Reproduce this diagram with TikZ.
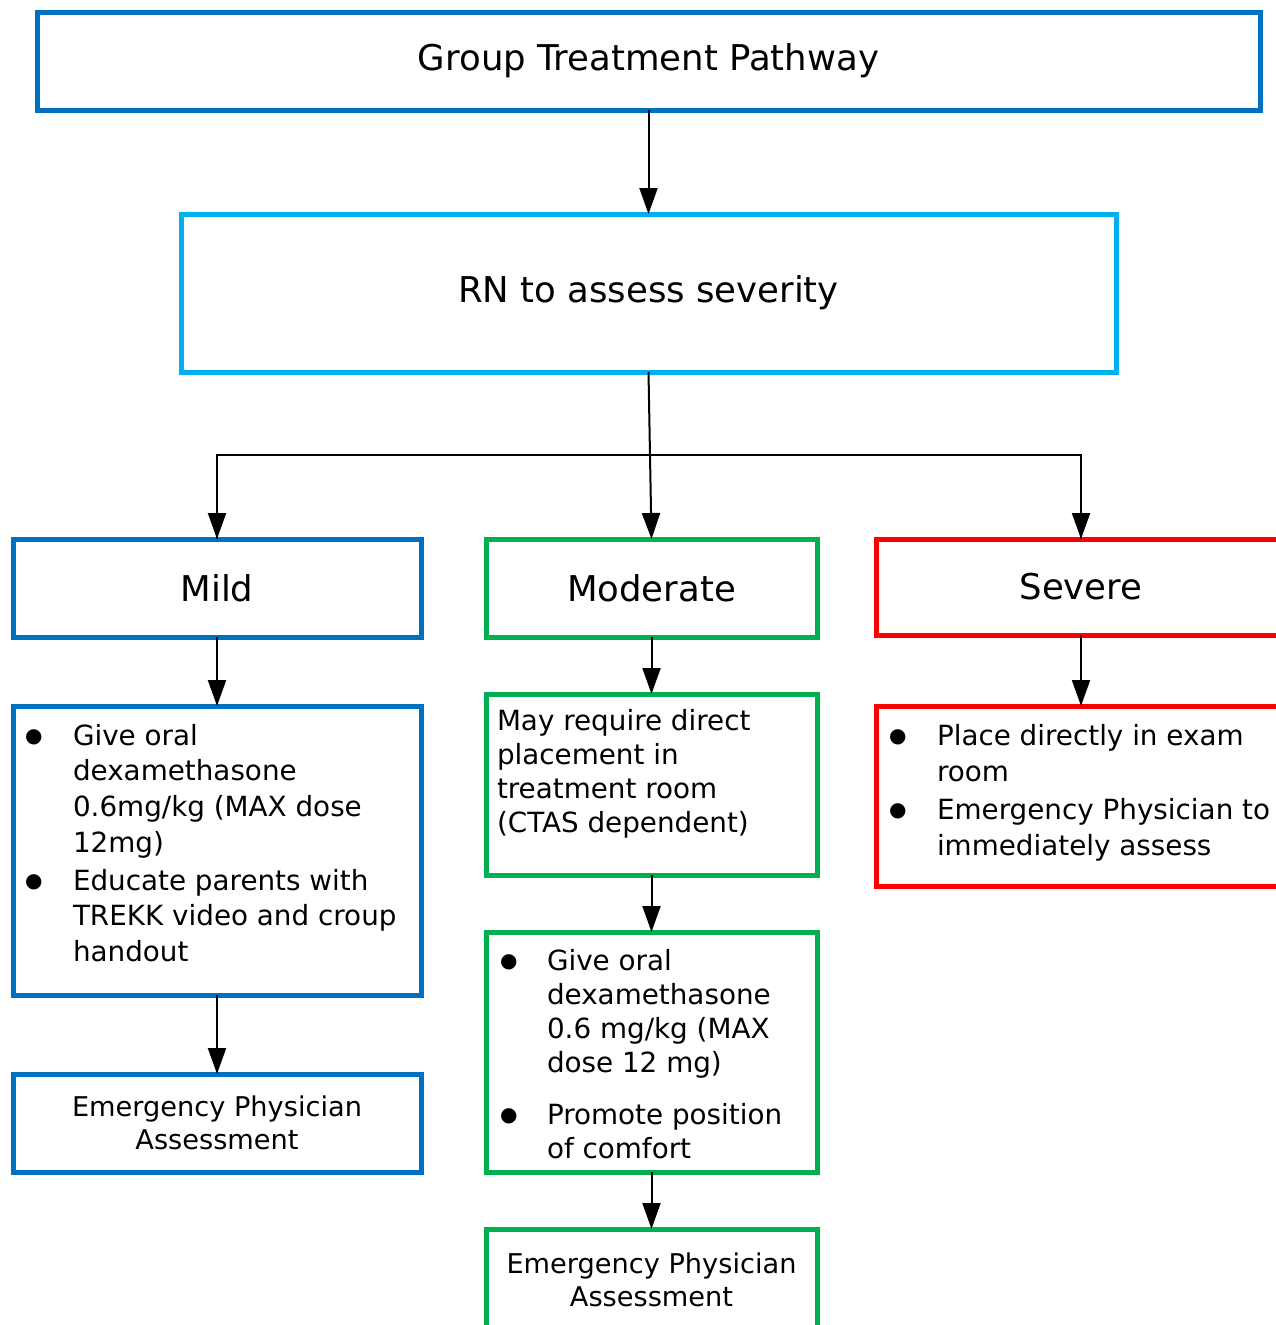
\documentclass[tikz,border=0pt]{standalone}
\usepackage{fontspec}
\setmainfont{DejaVu Sans}
\usetikzlibrary{arrows.meta}
\definecolor{cblue}{HTML}{0070C0}
\definecolor{ccyan}{HTML}{00B0F0}
\definecolor{cgreen}{HTML}{00B050}
\definecolor{cred}{HTML}{FF0000}
\newcommand\headfont{\fontsize{35.5}{42}\selectfont}
\newcommand\bodyfont{\fontsize{27.8}{35.7}\selectfont}
\newcommand\epfont{\fontsize{27.2}{33}\selectfont}
\newcommand\bigbul{\raisebox{2.5pt}{\fontsize{20}{20}\selectfont ●}}
\begin{document}
\begin{tikzpicture}[x=1pt,y=-1pt,
  box/.style={draw, line width=5pt, anchor=north west, inner sep=0pt, outer sep=0pt, align=center},
  conn/.style={line width=2pt, -{Triangle[length=26pt,width=18pt]}},
  plain/.style={line width=2pt},
  txt/.style={inner sep=0pt, outer sep=0pt, anchor=base west}]
\useasboundingbox[fill=white] (0,0) rectangle (1275,1325);

% boxes
\node[box, draw=cblue, minimum width=1223pt, minimum height=98pt, font=\headfont] (title) at (37,12) {Group Treatment Pathway};
\node[box, draw=ccyan, minimum width=935pt, minimum height=158pt, font=\headfont] (rn) at (181,214) {RN to assess severity};

\node[box, draw=cblue, minimum width=408pt, minimum height=98pt, font=\headfont] (mild) at (13,539) {Mild};
\node[box, draw=cgreen, minimum width=331pt, minimum height=98pt, font=\headfont] (mod) at (486,539) {Moderate};
\node[box, draw=cred, minimum width=410pt, minimum height=96pt, font=\headfont] (sev) at (876,539) {Severe};

\node[box, draw=cblue, minimum width=408pt, minimum height=289pt] (mildb) at (13,706) {};
\node[box, draw=cblue, minimum width=408pt, minimum height=98pt, font=\epfont] (mildep) at (13,1074) {Emergency Physician\\Assessment};

\node[box, draw=cgreen, minimum width=331pt, minimum height=181pt] (modm) at (486,694) {};
\node[box, draw=cgreen, minimum width=331pt, minimum height=240pt] (modb) at (486,932) {};
\node[box, draw=cgreen, minimum width=331pt, minimum height=101pt, font=\epfont] (modep) at (486,1229) {Emergency Physician\\Assessment};

\node[box, draw=cred, minimum width=410pt, minimum height=180pt] (sevb) at (876,706) {};

% texts
\node[txt] (mildt) at (25,745) {\bodyfont\begin{tabular}[t]{@{}p{48pt}@{}l@{}}
\bigbul & Give oral\\
 & dexamethasone\\
 & 0.6mg/kg (MAX dose\\
 & 12mg)\\[2.3pt]
\bigbul & Educate parents with\\
 & TREKK video and croup\\
 & handout
\end{tabular}};

\node[txt] (sevt) at (889,745) {\fontsize{27.8}{36}\selectfont\begin{tabular}[t]{@{}p{48pt}@{}l@{}}
\bigbul & Place directly in exam\\
 & room\\[2pt]
\bigbul & Emergency Physician to\\
 & immediately assess
\end{tabular}};

\node[txt] (modmt) at (497,730) {\fontsize{27.8}{34}\selectfont\begin{tabular}[t]{@{}l@{}}
May require direct\\
placement in\\
treatment room\\
(CTAS dependent)
\end{tabular}};

\node[txt] (modbt) at (500,970) {\fontsize{27.8}{34}\selectfont\begin{tabular}[t]{@{}p{47pt}@{}l@{}}
\bigbul & Give oral\\
 & dexamethasone\\
 & 0.6 mg/kg (MAX\\
 & dose 12 mg)\\[18pt]
\bigbul & Promote position\\
 & of comfort
\end{tabular}};

% connectors
\draw[conn] (title.south) -- (rn.north);
\coordinate (j) at (649,455);
\draw[conn] (rn.south) -- (mod.north);
\draw[plain] (j) -| (mild.north);
\draw[plain] (j) -| (sev.north);
\draw[conn] (mild.north |- j) -- (mild.north);
\draw[conn] (sev.north |- j) -- (sev.north);
\draw[conn] (mild.south) -- (mildb.north);
\draw[conn] (mildb.south) -- (mildep.north);
\draw[conn] (mod.south) -- (modm.north);
\draw[conn] (modm.south) -- (modb.north);
\draw[conn] (modb.south) -- (modep.north);
\draw[conn] (sev.south) -- (sev.south |- sevb.north);
\end{tikzpicture}
\end{document}
